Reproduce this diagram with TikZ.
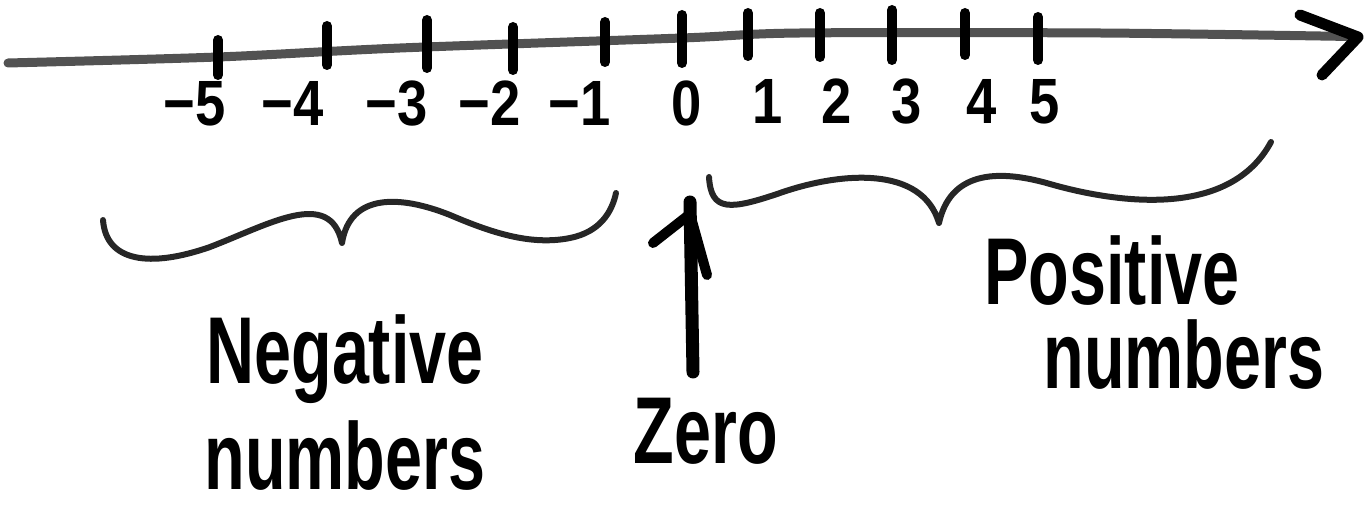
\documentclass[tikz,border=0pt]{standalone}
\usepackage{fontspec}
\setmainfont{Liberation Sans}
\begin{document}
\begin{tikzpicture}[x=1pt,y=-1pt,line cap=round,line join=round,
  axisline/.style={line width=9pt,draw=black!68},
  tickmark/.style={line width=10pt,draw=black},
  bracecurve/.style={line width=6pt,draw=black!85},
  arrowstroke/.style={line width=11pt,draw=black},
  numlabel/.style={font=\bfseries\fontsize{64}{64}\selectfont,anchor=base,inner sep=0pt,xscale=0.85},
  word/.style={font=\bfseries\fontsize{95}{95}\selectfont,anchor=base,inner sep=0pt,xscale=0.7}]
\useasboundingbox (0,0) rectangle (1367,510);
% number line
\coordinate (L) at (8,63);
\coordinate (R) at (1358,37);
\draw[axisline] plot[smooth] coordinates {(L) (218,57) (400,48) (682,38) (800,33) (1100,33) (1350,36.5)};
\coordinate (barbA) at (1300,15);
\coordinate (barbB) at (1322,75);
\draw[arrowstroke] (barbA) -- (R) -- (barbB);
% ticks
\foreach \x/\ya/\yb in {218/40/75,327/26/65,427/20/68,513/27/70,605/22/62,682/15/63,748/13/56,820/13/57,892/10/60,965/13/55,1038/17/60}
  \draw[tickmark] (\x,\ya) -- (\x,\yb);
% labels
\node[numlabel] (nm5) at (195,126) {−5};
\node[numlabel] (nm4) at (293,126) {−4};
\node[numlabel] (nm3) at (397,126) {−3};
\node[numlabel] (nm2) at (490,126) {−2};
\node[numlabel] (nm1) at (580,126) {−1};
\node[numlabel] (n0) at (687,126) {0};
\node[numlabel] (n1) at (768,124) {1};
\node[numlabel] (n2) at (837,124) {2};
\node[numlabel] (n3) at (907,124) {3};
\node[numlabel] (n4) at (982,124) {4};
\node[numlabel] (n5) at (1045,124) {5};
% braces
\draw[bracecurve] (103,220) .. controls (106,262) and (150,268) .. (210,247)
  .. controls (270,224) and (330,188) .. (342,243)
  .. controls (350,193) and (400,195) .. (450,215)
  .. controls (490,232) and (530,246) .. (570,238)
  .. controls (600,232) and (612,212) .. (616,193);
\draw[bracecurve] (709,177) .. controls (711,212) and (730,210) .. (780,193)
  .. controls (840,172) and (922,165) .. (939,223)
  .. controls (950,173) and (995,168) .. (1050,184)
  .. controls (1120,204) and (1230,218) .. (1271,142);
% words
\node[word] (neg1) at (345,383) {Negative};
\node[word] (neg2) at (345,489) {numbers};
\node[word] (zero) at (706,463) {Zero};
\node[word] (pos1) at (1112,305) {Positive};
\node[word] (pos2) at (1184,388) {numbers};
% zero arrow
\coordinate (ztop) at (690,214);
\coordinate (zbot) at (693,372);
\draw[line width=13pt] (zbot) -- ([yshift=12pt]ztop);
\draw[arrowstroke,line width=10pt] (653,243) -- (ztop) -- (707,275);
\end{tikzpicture}
\end{document}
